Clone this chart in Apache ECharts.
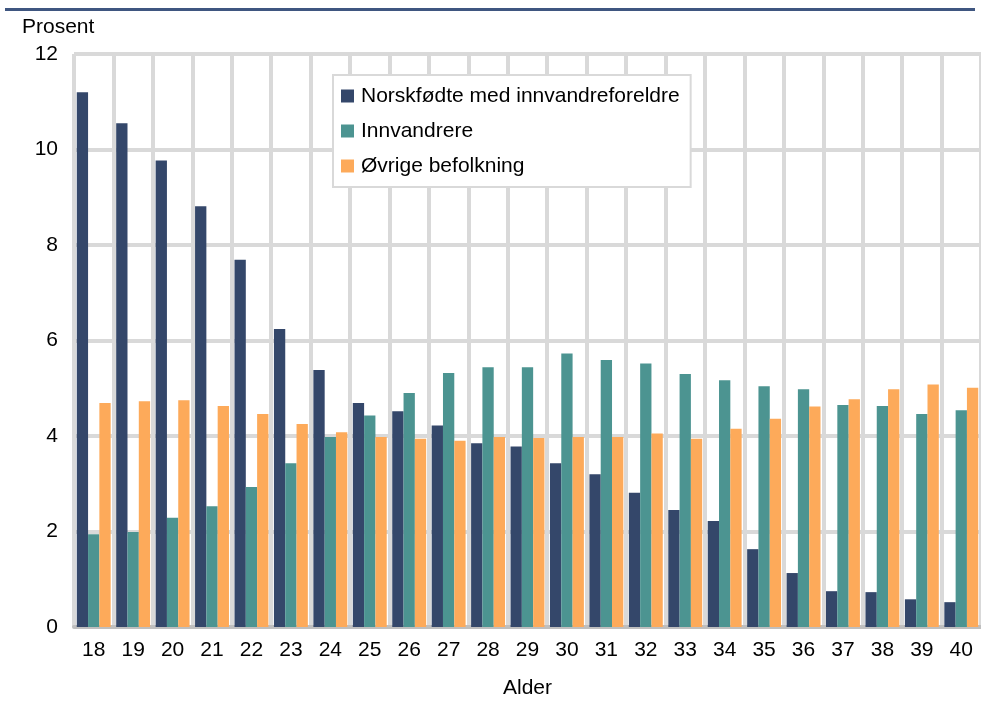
<!DOCTYPE html>
<html>
<head>
<meta charset="utf-8">
<script src="https://cdn.jsdelivr.net/npm/echarts@6/dist/echarts.min.js"></script>
<style>
  html, body { margin: 0; padding: 0; background: #fff; }
  #chart { width: 981px; height: 704px; }
</style>
</head>
<body>
<div id="chart"></div>
<script>
// aldersgrupper
const ages = ['18', '19', '20', '21', '22', '23', '24', '25', '26', '27', '28', '29',
  '30', '31', '32', '33', '34', '35', '36', '37', '38', '39', '40']

// prosent per alder
const norskfodte = [11.2, 10.55, 9.77, 8.81, 7.69, 6.24, 5.38, 4.69, 4.52, 4.22, 3.85, 3.78,
  3.43, 3.20, 2.81, 2.45, 2.22, 1.63, 1.13, 0.75, 0.73, 0.58, 0.52]
const innvandrere = [1.94, 1.99, 2.29, 2.53, 2.93, 3.43, 3.98, 4.43, 4.90, 5.32, 5.44, 5.44,
  5.73, 5.59, 5.52, 5.30, 5.17, 5.04, 4.98, 4.65, 4.63, 4.46, 4.54]
const ovrige = [4.69, 4.73, 4.75, 4.63, 4.46, 4.25, 4.08, 3.98, 3.94, 3.90, 3.98, 3.96,
  3.98, 3.98, 4.05, 3.94, 4.15, 4.36, 4.62, 4.77, 4.98, 5.08, 5.01]

const font = '"Liberation Sans", Arial, sans-serif'
const fs = 21

const chart = echarts.init(document.getElementById('chart'))

chart.setOption({
  animation: false,
  textStyle: { fontFamily: font },
  title: {
    text: 'Prosent',
    left: 22,
    top: 17,
    padding: 0,
    textStyle: { fontSize: fs, fontWeight: 'normal', color: '#000', fontFamily: font }
  },
  graphic: [
    {
      type: 'rect',
      shape: { x: 5, y: 8, width: 970, height: 3 },
      style: { fill: '#3f5680' },
      silent: true
    }
  ],
  legend: {
    orient: 'vertical',
    left: 333,
    top: 75,
    padding: [9, 11, 9, 8],
    itemGap: 11,
    itemWidth: 13,
    itemHeight: 13,
    icon: 'rect',
    backgroundColor: '#fff',
    borderColor: '#d9d9d9',
    borderWidth: 2,
    textStyle: { fontSize: fs, color: '#000', lineHeight: 24, padding: [0, 0, 0, 2], fontFamily: font },
    data: ['Norskfødte med innvandreforeldre', 'Innvandrere', 'Øvrige befolkning']
  },
  grid: { left: 74, right: 0, top: 54, bottom: 77, containLabel: false },
  xAxis: {
    type: 'category',
    data: ages,
    name: 'Alder',
    nameLocation: 'middle',
    nameGap: 51,
    nameTextStyle: { fontSize: fs, color: '#000' },
    axisLine: { show: true, lineStyle: { color: '#bfbfbf', width: 4 } },
    axisTick: { show: false },
    axisLabel: { fontSize: fs, color: '#000', margin: 13, interval: 0 },
    splitLine: { show: true, interval: 0, lineStyle: { color: '#d9d9d9', width: 4 } }
  },
  yAxis: {
    type: 'value',
    min: 0,
    max: 12,
    interval: 2,
    axisLine: { show: false },
    axisTick: { show: false },
    axisLabel: { fontSize: fs, color: '#000', margin: 16 },
    splitLine: { show: true, lineStyle: { color: '#d9d9d9', width: 4 } }
  },
  series: [
    {
      name: 'Norskfødte med innvandreforeldre',
      type: 'bar',
      data: norskfodte,
      barGap: '0%',
      barCategoryGap: '14%',
      itemStyle: { color: '#34476a' }
    },
    {
      name: 'Innvandrere',
      type: 'bar',
      data: innvandrere,
      barGap: '0%',
      barCategoryGap: '14%',
      itemStyle: { color: '#4c9491' }
    },
    {
      name: 'Øvrige befolkning',
      type: 'bar',
      data: ovrige,
      barGap: '0%',
      barCategoryGap: '14%',
      itemStyle: { color: '#fdaa5a' }
    }
  ]
})
</script>
</body>
</html>
